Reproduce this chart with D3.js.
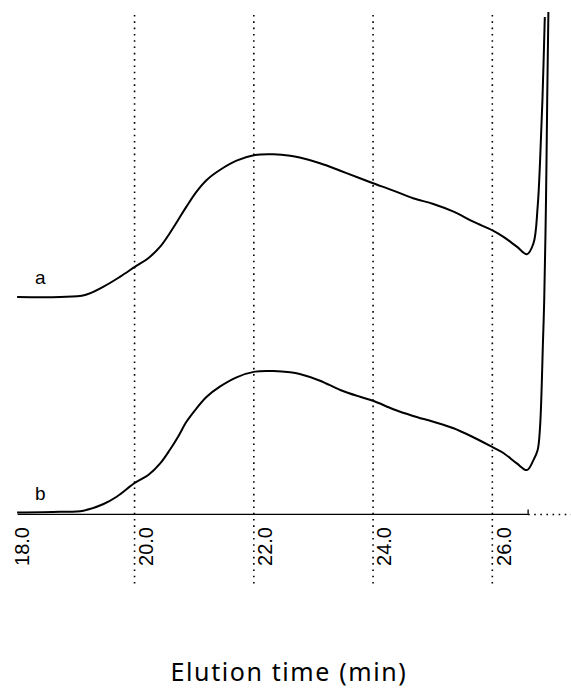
<!DOCTYPE html>
<html>
<head>
<meta charset="utf-8">
<script src="https://cdn.jsdelivr.net/npm/d3@7/dist/d3.min.js"></script>
<style>
  html, body { margin: 0; padding: 0; background: #fff; }
  svg { display: block; }
</style>
</head>
<body>
<svg id="chart" width="571" height="693"></svg>
<script>
// Elution profiles of two samples (a, b): time in minutes, normalised detector response.
const timeA = [18.03, 18.75, 19.17, 19.48, 19.76, 20.01, 20.23, 20.43, 20.59, 20.73, 20.87, 21.04,
  21.21, 21.43, 21.71, 22.02, 22.33, 22.61, 22.77, 23.11, 23.45, 23.78, 24.00, 24.34, 24.67, 25.01,
  25.35, 25.68, 26.01, 26.18, 26.41, 26.58, 26.69, 26.76, 26.80, 26.84, 26.88];
const responseA = [0, 0, 1.4, 7.3, 14.3, 21.3, 27.3, 35.4, 44.9, 54.2, 63.6, 74.2,
  82.4, 89.4, 96.0, 100.0, 100.5, 99.5, 98.2, 94.2, 88.9, 83.6, 80.1, 74.9, 69.5, 65.5,
  60.1, 53.0, 46.7, 42.5, 35.4, 30.1, 37.8, 63.6, 95.3, 138.7, 197.2];

const timeB = [18.03, 18.75, 19.14, 19.48, 19.70, 20.01, 20.23, 20.43, 20.59, 20.73, 20.87, 21.04,
  21.21, 21.43, 21.71, 22.02, 22.33, 22.61, 22.77, 23.11, 23.45, 23.78, 24.00, 24.34, 24.67, 25.01,
  25.35, 25.68, 26.01, 26.18, 26.41, 26.58, 26.69, 26.76, 26.80, 26.85, 26.87, 26.90, 26.92, 26.94];
const responseB = [0, 0.5, 1.3, 6.0, 11.1, 21.0, 26.4, 34.6, 44.0, 53.4, 63.9, 73.4,
  81.5, 88.6, 95.2, 99.2, 99.6, 98.7, 97.5, 92.8, 86.3, 81.5, 78.7, 72.7, 68.0, 63.9,
  59.3, 53.0, 45.9, 42.1, 34.6, 29.9, 37.0, 44.0, 60.2, 121.5, 149.6, 220.1, 290.5, 352.5];

// Trace names and their vertical stacking offsets (response units)
const traceNames = ["a", "b"];
const traceOffsets = [151.8, 0];

// Axis ticks
const tickValues = [18.0, 20.0, 22.0, 24.0, 26.0];
const gridValues = [20.0, 22.0, 24.0, 26.0];
const axisEndTime = 26.6;
const axisTitle = "Elution time (min)";

const svg = d3.select("#chart");

const x = d3.scaleLinear().domain([18, 27]).range([15.3, 15.3 + 9 * 59.63]);
const y = d3.scaleLinear().domain([0, 360]).range([512.5, 1.3]);

const axisY = 514.4;

// Dotted vertical grid lines
svg.append("g").selectAll("line")
  .data(gridValues)
  .join("line")
  .attr("x1", d => x(d)).attr("x2", d => x(d))
  .attr("y1", 15).attr("y2", 584)
  .attr("stroke", "#000")
  .attr("stroke-width", 1.6)
  .attr("stroke-dasharray", "1.6,4.7");

// Time axis: solid up to the end marker, dotted beyond
svg.append("line")
  .attr("x1", x(18.04)).attr("x2", x(axisEndTime))
  .attr("y1", axisY).attr("y2", axisY)
  .attr("stroke", "#000").attr("stroke-width", 1.4);
svg.append("line")
  .attr("x1", x(axisEndTime)).attr("x2", 571)
  .attr("y1", axisY).attr("y2", axisY)
  .attr("stroke", "#000").attr("stroke-width", 1.5)
  .attr("stroke-dasharray", "1.6,4.5");
svg.append("line")
  .attr("x1", x(axisEndTime)).attr("x2", x(axisEndTime))
  .attr("y1", axisY).attr("y2", axisY - 5)
  .attr("stroke", "#000").attr("stroke-width", 1.3);

// Rotated tick labels
svg.append("g").selectAll("text")
  .data(tickValues)
  .join("text")
  .attr("transform", (d, i) => {
    const tx = i === 0 ? x(d) + 14 : x(d) + 18.3;
    return `translate(${tx},527) rotate(-90)`;
  })
  .attr("text-anchor", "end")
  .attr("font-family", "'Liberation Sans', Arial, sans-serif")
  .attr("font-size", 20)
  .attr("fill", "#000")
  .text(d => d.toFixed(1));

// Chromatogram traces
const traces = [
  { name: traceNames[0], t: timeA, r: responseA, offset: traceOffsets[0] },
  { name: traceNames[1], t: timeB, r: responseB, offset: traceOffsets[1] }
];

const line = d3.line()
  .x(d => x(d[0]))
  .y(d => y(d[1]))
  .curve(d3.curveCatmullRom.alpha(0.5));

svg.append("g").selectAll("path")
  .data(traces)
  .join("path")
  .attr("d", tr => line(tr.t.map((t, i) => [t, tr.r[i] + tr.offset])))
  .attr("fill", "none")
  .attr("stroke", "#000")
  .attr("stroke-width", 2)
  .attr("stroke-linejoin", "round");

// Trace labels just above each baseline
svg.append("g").selectAll("text")
  .data(traces)
  .join("text")
  .attr("x", 35)
  .attr("y", tr => y(tr.offset) - 12.5)
  .attr("font-family", "'Liberation Sans', Arial, sans-serif")
  .attr("font-size", 19)
  .attr("fill", "#000")
  .text(tr => tr.name);

// Axis title
svg.append("text")
  .attr("x", 289)
  .attr("y", 681)
  .attr("text-anchor", "middle")
  .attr("font-family", "'Noto Sans', sans-serif")
  .attr("font-size", 25)
  .attr("letter-spacing", 1.6)
  .attr("fill", "#000")
  .text(axisTitle);
</script>
</body>
</html>
